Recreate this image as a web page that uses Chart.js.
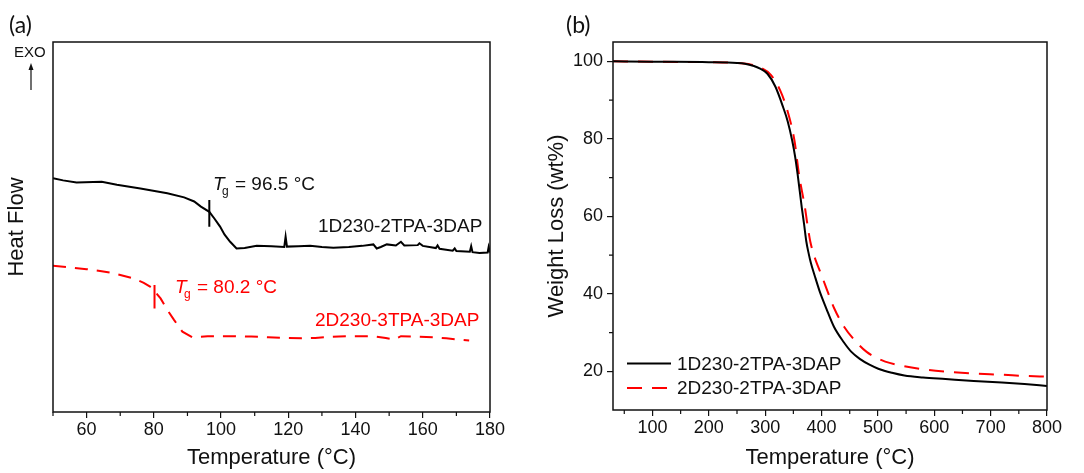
<!DOCTYPE html>
<html>
<head>
<meta charset="utf-8">
<script src="https://cdn.jsdelivr.net/npm/chart.js@4.4.1/dist/chart.umd.min.js"></script>
<style>
  html, body { margin: 0; padding: 0; background: #fff; }
  #wrap { position: relative; width: 1084px; height: 473px; }
  canvas { position: absolute; top: 0; }
  #dscChart { left: 0; }
  #tgaChart { left: 540px; }
</style>
</head>
<body>
<div id="wrap">
  <canvas id="dscChart" width="540" height="473"></canvas>
  <canvas id="tgaChart" width="544" height="473"></canvas>
</div>
<script>
// (a) DSC curves, heat flow in arbitrary units (0-100 over the plot height)
const dscTemp1 = [50, 53, 57, 64.5, 69, 76, 84, 89, 92, 94, 96.5, 98, 99.7, 101, 102.7, 104.6, 107, 110.6, 115, 118.8, 119.2, 119.6, 123, 126.5, 130, 133.4, 138, 142, 145.3, 146.3, 147.5, 149.3, 152, 153.5, 154.5, 158.5, 159, 160, 163.9, 164.4, 165, 168.9, 169.5, 170, 174, 174.4, 174.8, 176.9, 179.3, 179.6, 180];
const dscFlow1 = [63.2, 62.6, 62.0, 62.2, 61.4, 60.4, 59.1, 58.0, 56.9, 55.5, 54.1, 52.3, 50.1, 48.0, 46.0, 44.2, 44.3, 44.9, 44.8, 44.6, 47.4, 44.7, 44.8, 44.9, 44.6, 44.4, 44.6, 44.9, 45.3, 44.2, 44.6, 45.3, 45.0, 46.0, 45.0, 45.1, 45.6, 44.9, 44.3, 45.0, 44.1, 43.6, 44.2, 43.5, 43.3, 44.8, 43.2, 43.0, 43.1, 44.6, 43.1];
const dscTemp2 = [50, 55, 60, 64, 68, 74, 77, 79, 80.2, 81, 82, 84, 86, 88.5, 91.5, 96, 104, 109, 114, 119, 124, 128, 131, 135, 139, 145, 149, 151.5, 153.5, 158, 163.4, 167, 170.3, 173.8];
const dscFlow2 = [39.5, 39.1, 38.6, 38.1, 37.5, 36.1, 34.9, 33.8, 33.0, 31.8, 30.7, 27.6, 24.9, 21.7, 20.2, 20.5, 20.5, 20.4, 20.2, 20.0, 19.9, 20.0, 20.2, 20.4, 20.5, 20.5, 20.0, 19.6, 20.5, 20.4, 20.2, 19.9, 19.6, 19.3];
const tgTemp1 = [96.5, 96.5];
const tgFlow1 = [57.3, 50.1];
const tgTemp2 = [80.2, 80.2];
const tgFlow2 = [34.3, 28.0];
const seriesA = ['1D230-2TPA-3DAP', '2D230-3TPA-3DAP'];
const dscMajorX = [60, 80, 100, 120, 140, 160, 180];
const dscMinorX = [50, 70, 90, 110, 130, 150, 170];

// (b) TGA curves
const tgaTemp1 = [30, 100, 200, 250, 264, 280, 290, 304, 318, 332, 340, 348, 353, 357.6, 365, 369, 373, 377, 381, 387.6, 397, 408.5, 422, 439.5, 453, 467.8, 485, 501.7, 525, 547, 580, 620, 670, 720, 760, 800];
const tgaWeight1 = [100, 99.9, 99.8, 99.6, 99.4, 98.8, 98.2, 96.8, 93.5, 88.1, 84.5, 79.5, 75.5, 70.8, 62.2, 58, 53.5, 50.5, 48, 44.8, 40.5, 36.2, 31.5, 27.5, 25, 23.2, 21.7, 20.6, 19.6, 18.9, 18.4, 18, 17.5, 17.1, 16.7, 16.2];
const tgaTemp2 = [30, 100, 200, 250, 270, 290, 310, 326.6, 340, 352, 360, 370.6, 375, 380, 385, 390, 400, 411, 422.6, 440, 462, 480, 500, 513, 540, 575, 620, 670, 720, 760, 800];
const tgaWeight2 = [100, 99.9, 99.8, 99.6, 99.3, 98.5, 96.5, 92.5, 87, 79.5, 70.8, 62.2, 57.8, 53.5, 50.7, 48.5, 44.8, 40.5, 36.2, 31.5, 27.5, 25, 23.3, 22.5, 21.5, 20.6, 19.9, 19.4, 19.1, 18.8, 18.6];
const seriesB = ['1D230-2TPA-3DAP', '2D230-2TPA-3DAP'];
const tgaMajorX = [100, 200, 300, 400, 500, 600, 700, 800];
const tgaMinorX = [50, 150, 250, 350, 450, 550, 650, 750];
const tgaMajorY = [20, 40, 60, 80, 100];
const tgaMinorY = [30, 50, 70, 90];

const pts = (xs, ys) => xs.map((x, i) => ({ x: x, y: ys[i] }));
const sans = "'Liberation Sans', Arial, sans-serif";
const tickFont = { family: sans, size: 18 };
const titleFont = { family: sans, size: 22 };
const labelFont = '19px ' + sans;
const panelFont = "23px Lato, 'Open Sans', sans-serif";
const ink = '#111';

// box round the plot plus short minor ticks
const frameTicks = {
  id: 'frameTicks',
  afterDraw(chart, args, opts) {
    const { ctx, chartArea: a, scales } = chart;
    ctx.save();
    ctx.strokeStyle = ink;
    ctx.lineWidth = 1.5;
    ctx.strokeRect(a.left, a.top, a.right - a.left, a.bottom - a.top);
    ctx.lineWidth = 1.2;
    ctx.beginPath();
    (opts.minorX || []).forEach(v => {
      const px = scales.x.getPixelForValue(v);
      ctx.moveTo(px, a.bottom);
      ctx.lineTo(px, a.bottom + 4);
    });
    (opts.minorY || []).forEach(v => {
      const py = scales.y.getPixelForValue(v);
      ctx.moveTo(a.left, py);
      ctx.lineTo(a.left - 4, py);
    });
    ctx.stroke();
    ctx.restore();
  }
};

function drawTg(ctx, x, y, rest, color) {
  ctx.fillStyle = color;
  ctx.font = 'italic 19px ' + sans;
  ctx.fillText('T', x, y);
  ctx.font = '12px ' + sans;
  ctx.fillText('g', x + 9, y + 5);
  ctx.font = '19px ' + sans;
  ctx.fillText(rest, x + 22, y);
}

const dscNotes = {
  id: 'dscNotes',
  afterDraw(chart) {
    const ctx = chart.ctx;
    ctx.save();
    ctx.fillStyle = ink;
    ctx.font = panelFont;
    ctx.fillText('(a)', 9, 33);
    ctx.font = '15px ' + sans;
    ctx.fillText('EXO', 14, 57);
    ctx.strokeStyle = ink;
    ctx.lineWidth = 1.2;
    ctx.beginPath();
    ctx.moveTo(31, 90);
    ctx.lineTo(31, 68);
    ctx.stroke();
    ctx.beginPath();
    ctx.moveTo(31, 63);
    ctx.lineTo(28.5, 70);
    ctx.lineTo(33.5, 70);
    ctx.closePath();
    ctx.fill();
    drawTg(ctx, 213, 190, '= ' + tgTemp1[0] + ' °C', ink);
    ctx.fillStyle = ink;
    ctx.font = labelFont;
    ctx.fillText(seriesA[0], 318, 232);
    drawTg(ctx, 175, 293, '= ' + tgTemp2[0] + ' °C', '#ff0000');
    ctx.fillStyle = '#ff0000';
    ctx.font = labelFont;
    ctx.fillText(seriesA[1], 315, 326);
    ctx.restore();
  }
};

const tgaNotes = {
  id: 'tgaNotes',
  afterDraw(chart) {
    const ctx = chart.ctx;
    ctx.save();
    ctx.fillStyle = ink;
    ctx.font = panelFont;
    ctx.fillText('(b)', 26, 33);
    const rows = [363.5, 388];
    chart.data.datasets.forEach((ds, i) => {
      ctx.strokeStyle = ds.borderColor;
      ctx.lineWidth = 2;
      ctx.setLineDash(ds.borderDash || []);
      ctx.beginPath();
      ctx.moveTo(87, rows[i]);
      ctx.lineTo(131, rows[i]);
      ctx.stroke();
      ctx.setLineDash([]);
      ctx.fillStyle = ink;
      ctx.font = labelFont;
      ctx.textBaseline = 'middle';
      ctx.fillText(ds.label, 137, rows[i] + 1);
    });
    ctx.restore();
  }
};

const xGrid = { drawOnChartArea: false, tickLength: 6, color: ink, lineWidth: 1.2 };

new Chart(document.getElementById('dscChart'), {
  type: 'line',
  data: {
    datasets: [
      { label: seriesA[0], data: pts(dscTemp1, dscFlow1), borderColor: '#000', borderWidth: 2, pointRadius: 0, tension: 0 },
      { label: seriesA[1], data: pts(dscTemp2, dscFlow2), borderColor: '#ff0000', borderWidth: 2, borderDash: [13, 9], pointRadius: 0, tension: 0 },
      { label: 'Tg 1', data: pts(tgTemp1, tgFlow1), borderColor: '#000', borderWidth: 2, pointRadius: 0 },
      { label: 'Tg 2', data: pts(tgTemp2, tgFlow2), borderColor: '#ff0000', borderWidth: 2, pointRadius: 0 }
    ]
  },
  options: {
    responsive: false,
    animation: false,
    layout: { padding: { top: 42, right: 50, left: 0, bottom: 0 } },
    plugins: {
      legend: { display: false },
      tooltip: { enabled: false },
      frameTicks: { minorX: dscMinorX }
    },
    scales: {
      x: {
        type: 'linear', min: 50, max: 180,
        afterBuildTicks: s => { s.ticks = dscMajorX.map(v => ({ value: v })); },
        afterFit: s => { s.height = 61; },
        grid: xGrid,
        border: { display: false },
        ticks: { font: tickFont, color: ink, padding: 1, maxRotation: 0, autoSkip: false },
        title: { display: true, text: 'Temperature (°C)', font: titleFont, color: ink, padding: { top: 0, bottom: 2 } }
      },
      y: {
        min: 0, max: 100,
        afterFit: s => { s.width = 53; },
        grid: { display: false },
        border: { display: false },
        ticks: { display: false },
        title: { display: true, text: 'Heat Flow', font: titleFont, color: ink, padding: { top: 4, bottom: 4 } }
      }
    }
  },
  plugins: [frameTicks, dscNotes]
});

new Chart(document.getElementById('tgaChart'), {
  type: 'line',
  data: {
    datasets: [
      { label: seriesB[0], data: pts(tgaTemp1, tgaWeight1), borderColor: '#000', borderWidth: 2, pointRadius: 0, cubicInterpolationMode: 'monotone' },
      { label: seriesB[1], data: pts(tgaTemp2, tgaWeight2), borderColor: '#ff0000', borderWidth: 2, borderDash: [15, 10], pointRadius: 0, cubicInterpolationMode: 'monotone' }
    ]
  },
  options: {
    responsive: false,
    animation: false,
    layout: { padding: { top: 42, right: 37, left: 0, bottom: 0 } },
    plugins: {
      legend: { display: false },
      tooltip: { enabled: false },
      frameTicks: { minorX: tgaMinorX, minorY: tgaMinorY }
    },
    scales: {
      x: {
        type: 'linear', min: 30, max: 800,
        afterBuildTicks: s => { s.ticks = tgaMajorX.map(v => ({ value: v })); },
        afterFit: s => { s.height = 63; },
        grid: xGrid,
        border: { display: false },
        ticks: { font: tickFont, color: ink, padding: 1, maxRotation: 0, autoSkip: false },
        title: { display: true, text: 'Temperature (°C)', font: titleFont, color: ink, padding: { top: 0, bottom: 2 } }
      },
      y: {
        min: 10, max: 105,
        afterBuildTicks: s => { s.ticks = tgaMajorY.map(v => ({ value: v })); },
        afterFit: s => { s.width = 73; },
        grid: { drawOnChartArea: false, tickLength: 6, color: ink, lineWidth: 1.2 },
        border: { display: false },
        ticks: { font: tickFont, color: ink, padding: 4 },
        title: { display: true, text: 'Weight Loss (wt%)', font: titleFont, color: ink, padding: { top: 4, bottom: 4 } }
      }
    }
  },
  plugins: [frameTicks, tgaNotes]
});
</script>
</body>
</html>
